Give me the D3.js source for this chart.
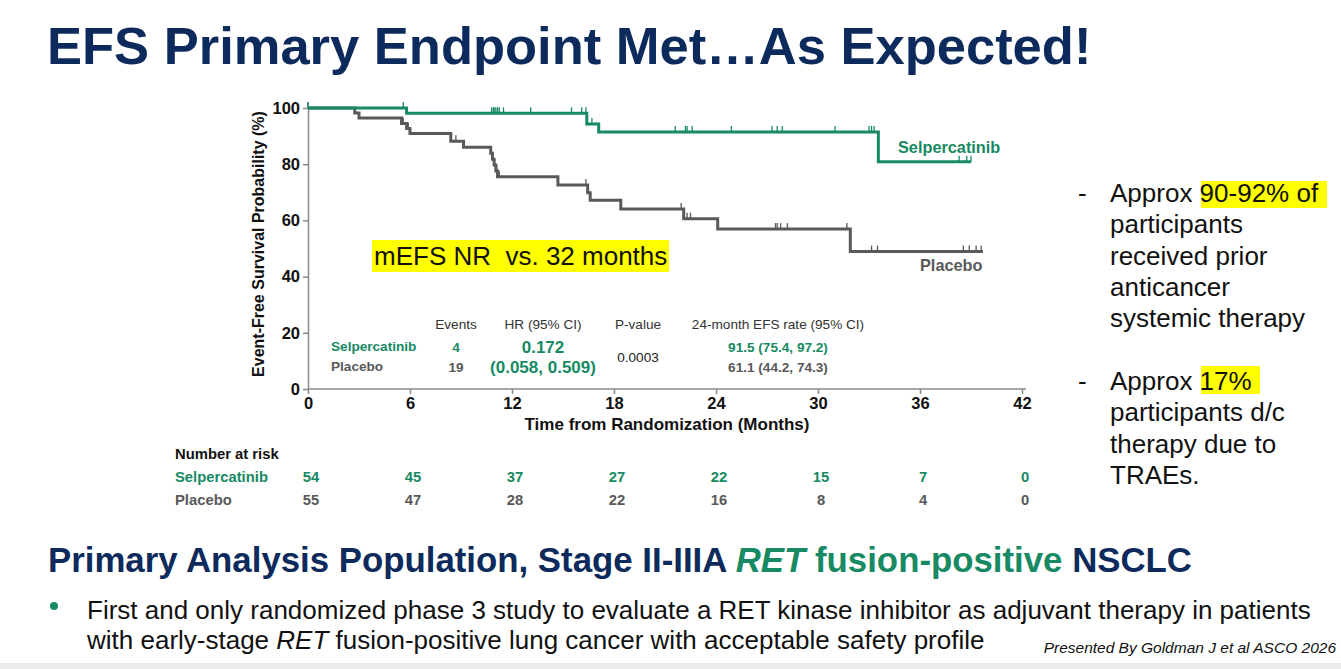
<!DOCTYPE html>
<html>
<head>
<meta charset="utf-8">
<script src="https://cdn.jsdelivr.net/npm/d3@7"></script>
<style>
  body { margin: 0; background: #fff; }
  svg { display: block; font-family: "Liberation Sans", Arial, sans-serif; }
</style>
</head>
<body>
<div id="chart"></div>
<script>
// ---- data ----
// KM steps: [month, survival % after this time]
var selSteps = [[0, 100], [5.8, 98.1], [16.4, 94.3], [17.1, 91.5], [33.55, 80.9], [39.0, 80.9]];
var plaSteps = [[0, 100], [2.75, 98.2], [3.0, 96.4], [5.5, 94.5], [5.8, 92.7], [6.0, 90.9],
  [8.4, 88.2], [9.15, 86.0], [10.75, 83.9], [10.85, 81.8], [10.95, 79.7], [11.05, 77.6],
  [11.15, 75.5], [14.7, 72.6], [16.45, 69.8], [16.6, 67.2], [18.4, 64.1], [22.1, 60.6],
  [24.1, 56.9], [31.9, 48.9], [39.7, 48.9]];
// censoring marks (months)
var selCensor = [0, 5.6, 10.8, 10.9, 10.95, 11.05, 11.15, 11.25, 11.5, 13.1, 15.5, 16.1, 16.35, 16.7,
  21.6, 22.2, 22.3, 22.6, 24.9, 27.3, 27.6, 27.9, 31.0, 33.0, 33.15, 33.3, 38.3, 38.75, 39.0];
var plaCensor = [0, 5.6, 5.9, 8.7, 11.1, 11.25, 16.35, 21.95, 22.3, 22.5, 27.5, 27.6, 27.8, 28.2,
  31.7, 33.15, 33.5, 38.55, 38.9, 39.3, 39.6];

var xTicks = [0, 6, 12, 18, 24, 30, 36, 42];
var yTicks = [0, 20, 40, 60, 80, 100];
var riskGroups = ["Selpercatinib", "Placebo"];
var riskSel = [54, 45, 37, 27, 22, 15, 7, 0];
var riskPla = [55, 47, 28, 22, 16, 8, 4, 0];

var statHeaders = ["Events", "HR (95% CI)", "P-value", "24-month EFS rate (95% CI)"];
var statEvents = [4, 19];
var statHR = ["0.172", "(0.058, 0.509)"];
var statP = "0.0003";
var statRate = ["91.5 (75.4, 97.2)", "61.1 (44.2, 74.3)"];

var green = "#178a63", gray = "#595959", navy = "#0c2a5c";

var svg = d3.select("#chart").append("svg")
  .attr("width", 1341).attr("height", 669);

svg.append("rect").attr("x", 0).attr("y", 663).attr("width", 1341).attr("height", 6).attr("fill", "#ececec");

// title
svg.append("text").attr("x", 47).attr("y", 64)
  .attr("font-size", 52.5).attr("font-weight", "bold").attr("fill", navy)
  .text("EFS Primary Endpoint Met\u2026As Expected!");

// ---- KM plot ----
var x = d3.scaleLinear().domain([0, 42]).range([308, 1022]);
var y = d3.scaleLinear().domain([0, 100]).range([389, 108]);

var yAxis = svg.append("g").attr("transform", "translate(308,0)")
  .call(d3.axisLeft(y).tickValues(yTicks).tickSize(5).tickSizeOuter(0));
var xAxis = svg.append("g").attr("transform", "translate(0,389)")
  .call(d3.axisBottom(x).tickValues(xTicks).tickSize(5).tickSizeOuter(0));
xAxis.select(".domain").attr("d", "M308,0H1026");
[yAxis, xAxis].forEach(function(a) {
  a.select(".domain").attr("stroke", "#8a8a8a").attr("stroke-width", 1.5);
  a.selectAll(".tick line").attr("stroke", "#8a8a8a").attr("stroke-width", 1.5);
  a.selectAll(".tick text").attr("font-size", 16.5).attr("font-weight", "bold")
    .attr("fill", "#111").attr("font-family", "Liberation Sans, Arial, sans-serif");
});
yAxis.selectAll(".tick text").attr("x", -8);
xAxis.selectAll(".tick text").attr("y", 8);

svg.append("text")
  .attr("transform", "translate(264,244) rotate(-90)")
  .attr("text-anchor", "middle").attr("font-size", 16).attr("font-weight", "bold").attr("fill", "#111")
  .text("Event-Free Survival Probability (%)");
svg.append("text").attr("x", 667).attr("y", 430)
  .attr("text-anchor", "middle").attr("font-size", 17).attr("font-weight", "bold").attr("fill", "#111")
  .text("Time from Randomization (Months)");

var line = d3.line()
  .x(function(d) { return x(d[0]); })
  .y(function(d) { return y(d[1]); })
  .curve(d3.curveStepAfter);

function survAt(steps, t) {
  var s = steps[0][1];
  steps.forEach(function(d) { if (d[0] <= t) s = d[1]; });
  return s;
}

function drawCurve(steps, censor, color) {
  svg.append("path").datum(steps)
    .attr("d", line).attr("fill", "none")
    .attr("stroke", color).attr("stroke-width", 3);
  svg.selectAll(null).data(censor).enter().append("line")
    .attr("x1", function(d) { return x(d); })
    .attr("x2", function(d) { return x(d); })
    .attr("y1", function(d) { return y(survAt(steps, d)); })
    .attr("y2", function(d) { return y(survAt(steps, d)) - 6; })
    .attr("stroke", color).attr("stroke-width", 1.3);
}
drawCurve(plaSteps, plaCensor, gray);
drawCurve(selSteps, selCensor, green);

svg.append("text").attr("x", 898).attr("y", 153)
  .attr("font-size", 16.3).attr("font-weight", "bold").attr("fill", green).text("Selpercatinib");
svg.append("text").attr("x", 920).attr("y", 271)
  .attr("font-size", 16.3).attr("font-weight", "bold").attr("fill", gray).text("Placebo");

// mEFS highlight
svg.append("rect").attr("x", 372).attr("y", 240).attr("width", 297).attr("height", 32).attr("fill", "#ffff00");
svg.append("text").attr("x", 374).attr("y", 265).attr("font-size", 26).attr("fill", "#111")
  .attr("xml:space", "preserve").text("mEFS NR  vs. 32 months");

// stats table
var colX = [456, 543, 638, 778];
svg.selectAll(null).data(statHeaders).enter().append("text")
  .attr("x", function(d, i) { return colX[i]; }).attr("y", 329)
  .attr("text-anchor", "middle").attr("font-size", 13.6).attr("fill", "#333")
  .text(function(d) { return d; });
var rowY = [351, 371];
var rowCol = [green, gray];
riskGroups.forEach(function(g, i) {
  svg.append("text").attr("x", 331).attr("y", rowY[i]).attr("font-size", 13.6).attr("font-weight", "bold")
    .attr("fill", rowCol[i]).text(g);
  svg.append("text").attr("x", colX[0]).attr("y", rowY[i] + 1).attr("text-anchor", "middle")
    .attr("font-size", 13.6).attr("font-weight", "bold").attr("fill", rowCol[i]).text(statEvents[i]);
  svg.append("text").attr("x", colX[1]).attr("y", rowY[i] + 2).attr("text-anchor", "middle")
    .attr("font-size", 17).attr("font-weight", "bold").attr("fill", green).text(statHR[i]);
  svg.append("text").attr("x", colX[3]).attr("y", rowY[i] + 1).attr("text-anchor", "middle")
    .attr("font-size", 13.6).attr("font-weight", "bold").attr("fill", rowCol[i]).text(statRate[i]);
});
svg.append("text").attr("x", colX[2]).attr("y", 362).attr("text-anchor", "middle")
  .attr("font-size", 13.6).attr("fill", "#222").text(statP);

// number at risk
svg.append("text").attr("x", 175).attr("y", 459).attr("font-size", 14.8).attr("font-weight", "bold")
  .attr("fill", "#111").text("Number at risk");
[riskSel, riskPla].forEach(function(vals, i) {
  var yy = 482 + i * 23;
  svg.append("text").attr("x", 175).attr("y", yy).attr("font-size", 14.8).attr("font-weight", "bold")
    .attr("fill", rowCol[i]).text(riskGroups[i]);
  svg.selectAll(null).data(vals).enter().append("text")
    .attr("x", function(d, j) { return x(xTicks[j]) + 3; }).attr("y", yy)
    .attr("text-anchor", "middle").attr("font-size", 14.8).attr("font-weight", "bold")
    .attr("fill", rowCol[i]).text(function(d) { return d; });
});

// right-hand notes
svg.append("rect").attr("x", 1201).attr("y", 181).attr("width", 126).attr("height", 27).attr("fill", "#ffff00");
svg.append("rect").attr("x", 1201).attr("y", 366).attr("width", 59).attr("height", 28).attr("fill", "#ffff00");
var notes = [["Approx 90-92% of", "participants", "received prior", "anticancer", "systemic therapy"],
  ["Approx 17%", "participants d/c", "therapy due to", "TRAEs."]];
var noteY = [202, 390];
notes.forEach(function(block, b) {
  svg.append("text").attr("x", 1078).attr("y", noteY[b]).attr("font-size", 26).attr("fill", "#111").text("-");
  block.forEach(function(t, k) {
    svg.append("text").attr("x", 1110).attr("y", noteY[b] + k * 31.3)
      .attr("font-size", 26).attr("fill", "#111").text(t);
  });
});

// bottom
var h = svg.append("text").attr("x", 48).attr("y", 572).attr("font-size", 34.8).attr("font-weight", "bold").attr("fill", navy);
h.append("tspan").text("Primary Analysis Population, Stage II-IIIA ");
h.append("tspan").attr("fill", green).attr("font-style", "italic").text("RET");
h.append("tspan").attr("fill", green).text(" fusion-positive");
h.append("tspan").text(" NSCLC");

svg.append("circle").attr("cx", 54).attr("cy", 606).attr("r", 4).attr("fill", green);
svg.append("text").attr("x", 87).attr("y", 619).attr("font-size", 26).attr("fill", "#111")
  .text("First and only randomized phase 3 study to evaluate a RET kinase inhibitor as adjuvant therapy in patients");
var b2 = svg.append("text").attr("x", 87).attr("y", 649).attr("font-size", 26).attr("fill", "#111");
b2.append("tspan").text("with early-stage ");
b2.append("tspan").attr("font-style", "italic").text("RET");
b2.append("tspan").text(" fusion-positive lung cancer with acceptable safety profile");
svg.append("text").attr("x", 1336).attr("y", 653).attr("text-anchor", "end")
  .attr("font-size", 15.5).attr("font-style", "italic").attr("fill", "#111")
  .text("Presented By Goldman J et al ASCO 2026");
</script>
</body>
</html>
